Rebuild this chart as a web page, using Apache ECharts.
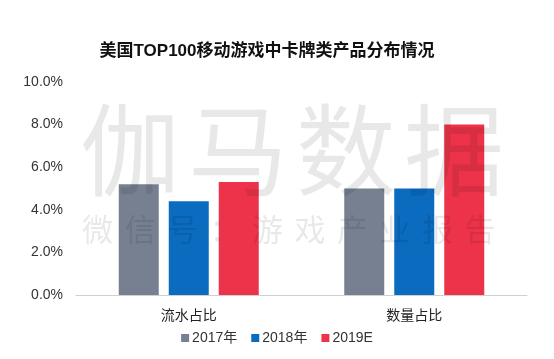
<!DOCTYPE html>
<html><head><meta charset="utf-8">
<script src="https://cdn.jsdelivr.net/npm/echarts@6/dist/echarts.min.js"></script>
<style>html,body{margin:0;padding:0;background:#fff}#c{width:554px;height:359px}</style>
</head><body><div id="c"></div>
<script>
const categories = ['流水占比', '数量占比'];
const seriesNames = ['2017年', '2018年', '2019E'];
const v2017 = [5.2, 5.0];
const v2018 = [4.4, 5.0];
const v2019 = [5.3, 8.0];
const yTicks = [0, 2, 4, 6, 8, 10];
const colors = ['#768091', '#0A6BBF', '#EC3349'];
const wm1 = '伽马数据';
const wm2 = '微信号：游戏产业报告';

const font = '"Liberation Sans", Arial, "Noto Sans CJK SC", sans-serif';
const chart = echarts.init(document.getElementById('c'));
const graphic = [];
[...wm1].forEach((ch, i) => graphic.push({
  type: 'text', left: 80 + i * 108, top: 100, z: 100, silent: true,
  style: { text: ch, font: '100px "Noto Sans CJK SC"', fill: 'rgba(0,0,0,0.09)' }
}));
[...wm2].forEach((ch, i) => graphic.push({
  type: 'text', left: 82 + i * 42.5, top: 214, z: 100, silent: true,
  style: { text: ch, font: '31px "Noto Sans CJK SC"', fill: 'rgba(0,0,0,0.09)' }
}));
const data = [v2017, v2018, v2019];
chart.setOption({
  animation: false,
  title: { text: '美国TOP100移动游戏中卡牌类产品分布情况', left: 262, textAlign: 'center', top: 38,
    textStyle: { fontSize: 17, fontWeight: 'bold', color: '#111', fontFamily: font } },
  legend: { data: seriesNames, bottom: 9, left: 'center', itemWidth: 8, itemHeight: 8, itemGap: 14,
    icon: 'rect', textStyle: { fontSize: 14, color: '#333', fontFamily: font, padding: [0, 0, 0, -2] } },
  grid: { left: 76, right: 27, top: 82, bottom: 64 },
  xAxis: { type: 'category', data: categories,
    axisLine: { lineStyle: { color: '#d0d0d0' } }, axisTick: { show: false },
    axisLabel: { fontSize: 14, color: '#222', margin: 14, fontFamily: font } },
  yAxis: { type: 'value', min: yTicks[0], max: yTicks[yTicks.length - 1], interval: 2,
    splitLine: { show: false }, axisLine: { show: false }, axisTick: { show: false },
    axisLabel: { formatter: v => v.toFixed(1) + '%', fontSize: 14, color: '#333', margin: 13, fontFamily: font } },
  graphic: graphic,
  series: seriesNames.map((n, i) => ({
    name: n, type: 'bar', data: data[i], barWidth: 40, barGap: '25%',
    itemStyle: { color: colors[i] }
  }))
});
</script></body></html>
